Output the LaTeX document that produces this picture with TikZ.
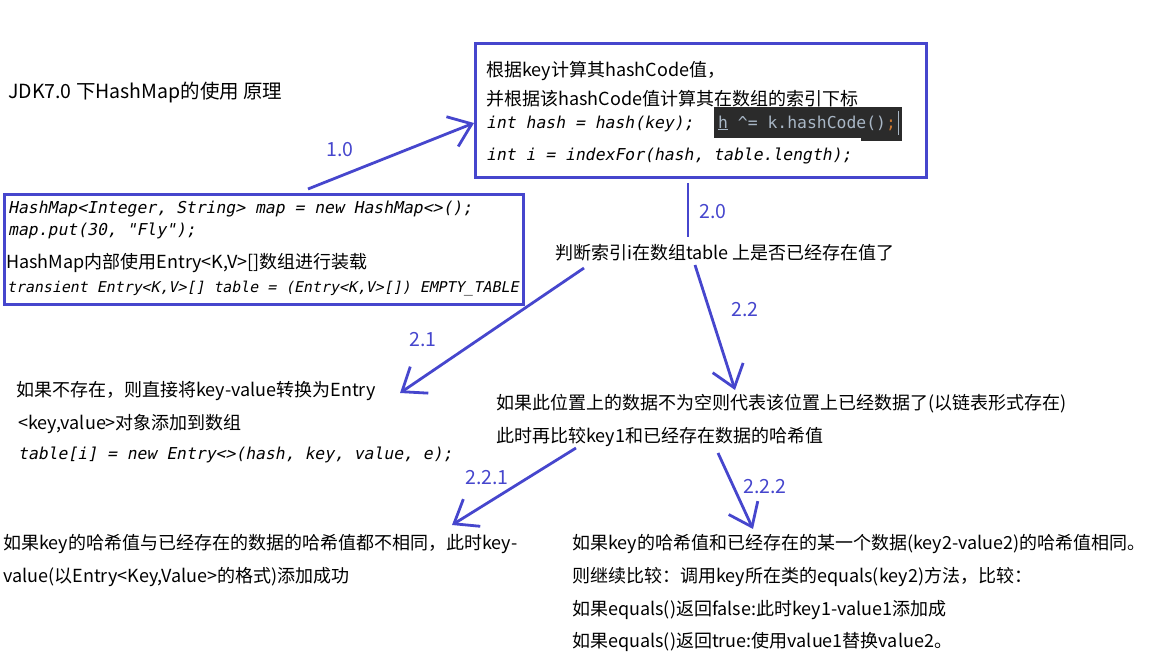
\documentclass[tikz,border=0pt]{standalone}
\usepackage{fontspec}
\newfontfamily\cjk{Noto Sans CJK SC}
\newfontfamily\codeit[FakeSlant=0.2]{DejaVu Sans Mono}
\newfontfamily\codeup{DejaVu Sans Mono}
\usetikzlibrary{arrows.meta}
\definecolor{lineblue}{RGB}{70,70,205}
\definecolor{hintbg}{RGB}{43,43,43}
\definecolor{hintfg}{RGB}{169,183,198}
\definecolor{hintsemi}{RGB}{204,120,50}

\begin{document}
\begin{tikzpicture}[x=1pt,y=-1pt,
  box/.style={draw=lineblue,line width=3pt,inner sep=0pt},
  flow/.style={draw=lineblue,line width=2.8pt,-{Straight Barb[length=21pt,width=32pt]}},
  steplabel/.style={text=lineblue,inner sep=0pt,font=\cjk\fontsize{19.5}{22}\selectfont},
  txt/.style={anchor=west,inner sep=0pt,font=\cjk\fontsize{18}{21}\selectfont},
  codetxt/.style={anchor=west,inner sep=0pt,font=\codeit\fontsize{16.4}{20}\selectfont}]
\useasboundingbox (0,0) rectangle (1173,658);
\node[txt,font=\cjk\fontsize{19.5}{23}\selectfont] (title) at (8,93) {JDK7.0 下HashMap的使用 原理};

% hash box
\node[box,anchor=north west,minimum width=451pt,minimum height=134pt] (hashbox) at (474,42) {};
\node[txt] (hash1) at (486,71) {根据key计算其hashCode值，};
\node[txt] (hash2) at (486,99) {并根据该hashCode值计算其在数组的索引下标};
\node[codetxt] (hash3) at (486,124) {int hash = hash(key);};
\node[codetxt] (hash4) at (486,156) {int i = indexFor(hash, table.length);};
\fill[hintbg] (861,136) rectangle (902,141);
\node[fill=hintbg,anchor=north west,minimum width=188pt,minimum height=31pt,inner sep=0pt] (hint) at (714,107) {};
\node[anchor=west,inner sep=0pt,text=hintfg,font=\codeup\fontsize{16.4}{20}\selectfont] (hinttxt) at (718,123) {\underline{h} \textasciicircum= k.hashCode()\textcolor{hintsemi}{;}};
\draw[hintfg,line width=1pt] ([xshift=2pt]hinttxt.east) +(0,-12) -- +(0,12);

% map box
\node[box,anchor=north west,minimum width=519pt,minimum height=110pt] (mapbox) at (3,193) {};
\node[codetxt] (map1) at (8,209) {HashMap<Integer, String> map = new HashMap<>();};
\node[codetxt] (map2) at (8,231) {map.put(30, "Fly");};
\node[txt] (map3) at (6,263) {HashMap内部使用Entry<K,V>[]数组进行装载};
\node[codetxt,font=\codeit\fontsize{14.9}{18}\selectfont] (map4) at (7,289) {transient Entry<K,V>[] table = (Entry<K,V>[]) EMPTY\_TABLE};

\node[txt] (judge) at (555,253) {判断索引i在数组table 上是否已经存在值了};

\node[txt] (absent1) at (16,391) {如果不存在，则直接将key-value转换为Entry};
\node[txt] (absent2) at (18,424) {<key,value>对象添加到数组};
\node[codetxt] (absent3) at (18,455) {table[i] = new Entry<>(hash, key, value, e);};

\node[txt] (exist1) at (496,404) {如果此位置上的数据不为空则代表该位置上已经数据了(以链表形式存在)};
\node[txt] (exist2) at (496,437) {此时再比较key1和已经存在数据的哈希值};

\node[txt] (differ1) at (3,544) {如果key的哈希值与已经存在的数据的哈希值都不相同，此时key-};
\node[txt] (differ2) at (3,577) {value(以Entry<Key,Value>的格式)添加成功};

\foreach \i/\y/\t in {1/544/{如果key的哈希值和已经存在的某一个数据(key2-value2)的哈希值相同。},
  2/577/{则继续比较：调用key所在类的equals(key2)方法，比较：},
  3/610/{如果equals()返回false:此时key1-value1添加成},
  4/642/{如果equals()返回true:使用value1替换value2。}}
  \node[txt] (same\i) at (572,\y) {\t};

% steps
\coordinate (s10) at (308,189); \coordinate (e10) at (474,123);
\coordinate (s20) at (688,183); \coordinate (e20) at (688,237);
\coordinate (s21) at (584,268); \coordinate (e21) at (400,393);
\coordinate (s22) at (695,265); \coordinate (e22) at (735,390);
\coordinate (s221) at (576,448); \coordinate (e221) at (452,525);
\coordinate (s222) at (718,453); \coordinate (e222) at (753,529);
\draw[lineblue,line width=2.8pt] (s20) -- (e20);
\node[steplabel] (lab20) at (713,212) {2.0};
\foreach \n/\t/\lx/\ly in {10/1.0/340/150,21/2.1/423/340,22/2.2/745/310,221/2.2.1/487/478,222/2.2.2/765/487}
{
  \draw[flow] (s\n) -- (e\n);
  \node[steplabel] (lab\n) at (\lx,\ly) {\t};
}
\end{tikzpicture}
\end{document}
